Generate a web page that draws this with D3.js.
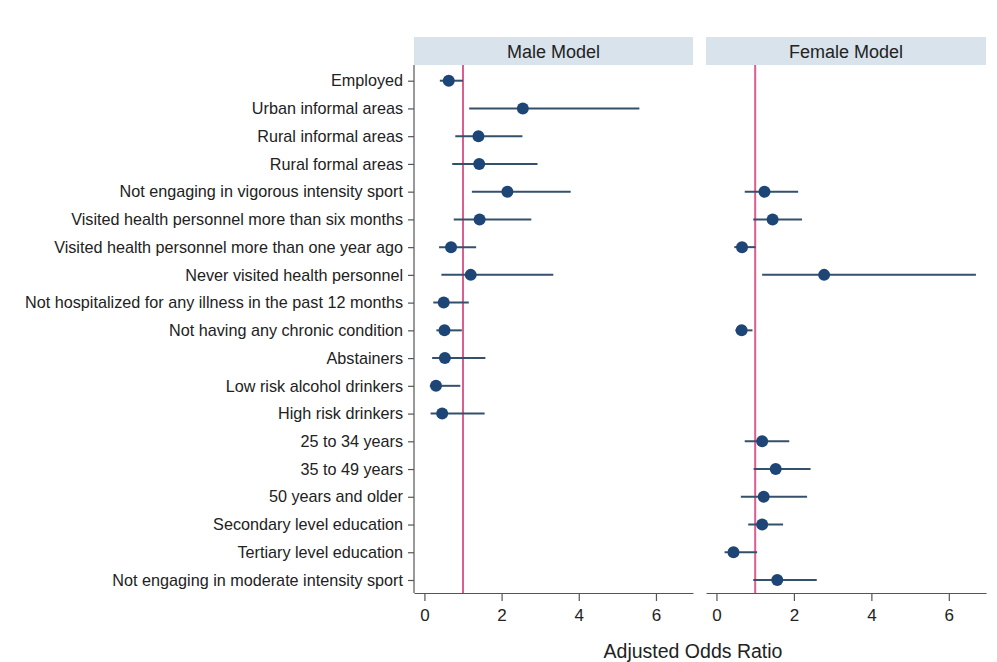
<!DOCTYPE html>
<html>
<head>
<meta charset="utf-8">
<script src="https://cdn.jsdelivr.net/npm/d3@7"></script>
<style>
  html, body { margin: 0; padding: 0; background: #fff; }
  svg { display: block; font-family: "Liberation Sans", Arial, sans-serif; }
  .strip-text { font-size: 18px; fill: #222; }
  .axis text { font-size: 17px; fill: #222; }
  .ylab text { font-size: 16.2px; fill: #222; }
  .axis path, .axis line { stroke: #555; stroke-width: 1.2; }
</style>
</head>
<body>
<div id="chart"></div>
<script>
// Row labels (top to bottom)
var labels = [
  "Employed",
  "Urban informal areas",
  "Rural informal areas",
  "Rural formal areas",
  "Not engaging in vigorous intensity sport",
  "Visited health personnel more than six months",
  "Visited health personnel more than one year ago",
  "Never visited health personnel",
  "Not hospitalized for any illness in the past 12 months",
  "Not having any chronic condition",
  "Abstainers",
  "Low risk alcohol drinkers",
  "High risk drinkers",
  "25 to 34 years",
  "35 to 49 years",
  "50 years and older",
  "Secondary level education",
  "Tertiary level education",
  "Not engaging in moderate intensity sport"
];

// Male model: odds ratio, lower CI, upper CI (null = not in model)
var maleOR = [0.63, 2.55, 1.40, 1.42, 2.15, 1.43, 0.69, 1.20, 0.50, 0.52, 0.53, 0.30, 0.46, null, null, null, null, null, null];
var maleLo = [0.40, 1.16, 0.80, 0.72, 1.23, 0.76, 0.38, 0.44, 0.23, 0.31, 0.20, 0.14, 0.16, null, null, null, null, null, null];
var maleHi = [1.00, 5.57, 2.54, 2.93, 3.79, 2.77, 1.34, 3.34, 1.15, 0.97, 1.58, 0.93, 1.56, null, null, null, null, null, null];

// Female model
var femaleOR = [null, null, null, null, 1.24, 1.45, 0.66, 2.78, null, 0.65, null, null, null, 1.18, 1.53, 1.22, 1.18, 0.44, 1.57];
var femaleLo = [null, null, null, null, 0.73, 0.95, 0.46, 1.18, null, 0.49, null, null, null, 0.73, 0.96, 0.63, 0.82, 0.21, 0.95];
var femaleHi = [null, null, null, null, 2.11, 2.21, 1.01, 6.70, null, 0.93, null, null, null, 1.88, 2.43, 2.34, 1.72, 1.05, 2.59];

var panelTitles = ["Male Model", "Female Model"];
var xTicks = [0, 2, 4, 6];
var refValue = 1;

var W = 997, H = 662;
var plotTop = 65, axisY = 593;
var stripTop = 37;
var panels = [
  { title: panelTitles[0], x0: 414, x1: 693, or: maleOR, lo: maleLo, hi: maleHi, yAxis: true },
  { title: panelTitles[1], x0: 706, x1: 986, or: femaleOR, lo: femaleLo, hi: femaleHi, yAxis: false }
];

var svg = d3.select('#chart').append('svg')
  .attr('width', W).attr('height', H);

svg.append('rect').attr('width', W).attr('height', H).attr('fill', '#fff');

var y = d3.scalePoint().domain(labels).range([80.7, 580]);

panels.forEach(function (p) {
  var x = d3.scaleLinear().domain([-0.27, 6.96]).range([p.x0, p.x1]);
  var g = svg.append('g');

  // strip header
  g.append('rect')
    .attr('x', p.x0).attr('y', stripTop)
    .attr('width', p.x1 - p.x0).attr('height', plotTop - stripTop)
    .attr('fill', '#d8e3ec');
  g.append('text')
    .attr('class', 'strip-text')
    .attr('x', (p.x0 + p.x1) / 2).attr('y', 58)
    .attr('text-anchor', 'middle')
    .text(p.title);

  // x axis
  var xa = g.append('g')
    .attr('class', 'axis')
    .attr('transform', 'translate(0,' + axisY + ')')
    .call(d3.axisBottom(x).tickValues(xTicks).tickSize(8).tickSizeOuter(0).tickPadding(6));
  xa.selectAll('text').attr('dy', '0.85em');

  // y axis (first panel only)
  if (p.yAxis) {
    var ya = g.append('g')
      .attr('class', 'axis ylab')
      .attr('transform', 'translate(' + p.x0 + ',0)')
      .call(d3.axisLeft(y).tickSize(6).tickSizeOuter(0).tickPadding(5));
    ya.select('.domain').attr('d', 'M0,' + plotTop + 'V' + axisY);
  }

  // reference line at OR = 1
  g.append('line')
    .attr('x1', x(refValue)).attr('x2', x(refValue))
    .attr('y1', plotTop).attr('y2', axisY)
    .attr('stroke', '#dc5d8e').attr('stroke-width', 2);

  var rows = labels.map(function (l, i) {
    return { label: l, or: p.or[i], lo: p.lo[i], hi: p.hi[i] };
  }).filter(function (d) { return d.or != null; });

  g.selectAll('.ci').data(rows).enter().append('line')
    .attr('class', 'ci')
    .attr('x1', function (d) { return x(d.lo); })
    .attr('x2', function (d) { return x(d.hi); })
    .attr('y1', function (d) { return y(d.label); })
    .attr('y2', function (d) { return y(d.label); })
    .attr('stroke', '#34506b').attr('stroke-width', 2);

  g.selectAll('.pt').data(rows).enter().append('circle')
    .attr('class', 'pt')
    .attr('cx', function (d) { return x(d.or); })
    .attr('cy', function (d) { return y(d.label); })
    .attr('r', 6)
    .attr('fill', '#1d4677');
});

svg.append('text')
  .attr('x', 693).attr('y', 658)
  .attr('text-anchor', 'middle')
  .style('font-size', '19.5px').style('fill', '#222')
  .text('Adjusted Odds Ratio');
</script>
</body>
</html>
